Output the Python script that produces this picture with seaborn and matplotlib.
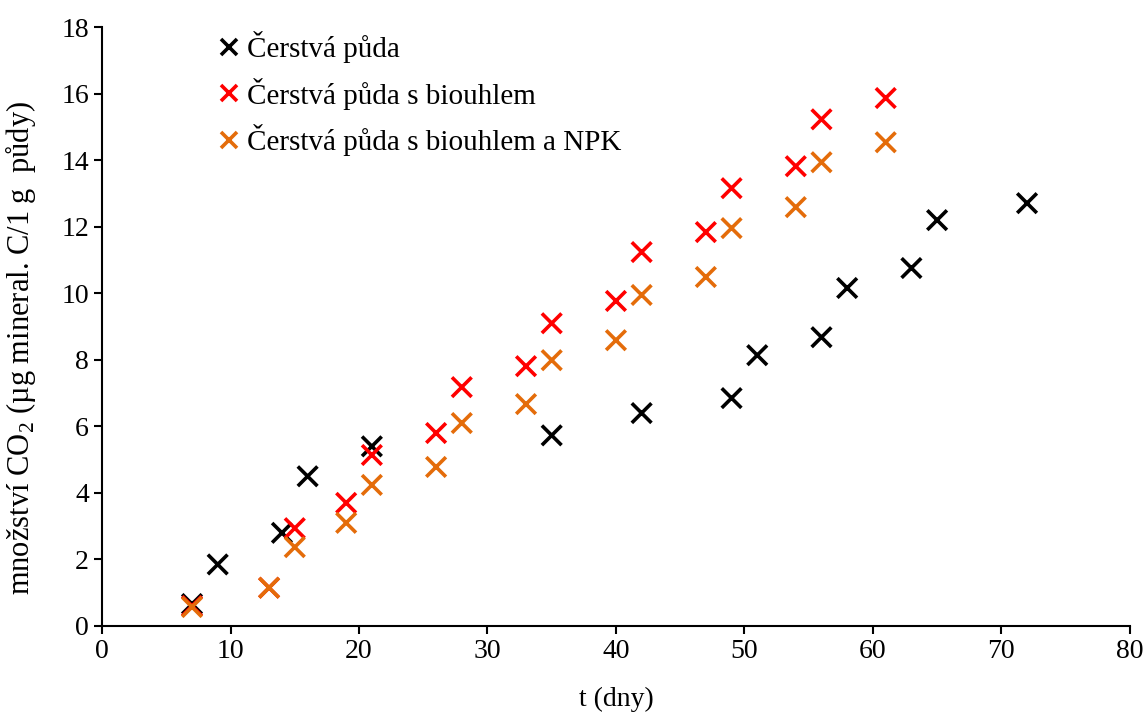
import pandas as pd
import matplotlib
matplotlib.use("Agg")
import matplotlib.pyplot as plt
import seaborn as sns

# data
t_fresh = [7, 9, 14, 16, 21, 35, 42, 49, 51, 56, 58, 63, 65, 72]
co2_fresh = [0.66, 1.85, 2.8, 4.5, 5.4, 5.73, 6.4, 6.85, 8.14, 8.68, 10.16, 10.76, 12.2, 12.71]

t_bio = [7, 13, 15, 19, 21, 26, 28, 33, 35, 40, 42, 47, 49, 54, 56, 61]
co2_bio = [0.6, 1.15, 2.94, 3.7, 5.14, 5.8, 7.18, 7.81, 9.1, 9.77, 11.24, 11.84, 13.16, 13.82, 15.23, 15.87]
co2_bio_npk = [0.57, 1.15, 2.37, 3.1, 4.24, 4.78, 6.1, 6.67, 7.99, 8.59, 9.95, 10.49, 11.96, 12.59, 13.94, 14.54]

labels = ["Čerstvá půda", "Čerstvá půda s biouhlem", "Čerstvá půda s biouhlem a NPK"]
colors = ["black", "#FF0000", "#E46C0A"]

df = pd.concat([
    pd.DataFrame({"t": t_fresh, "co2": co2_fresh, "serie": labels[0]}),
    pd.DataFrame({"t": t_bio, "co2": co2_bio, "serie": labels[1]}),
    pd.DataFrame({"t": t_bio, "co2": co2_bio_npk, "serie": labels[2]}),
], ignore_index=True)

sns.set_style("ticks")
plt.rcParams['font.family'] = ['Liberation Serif', 'DejaVu Serif']
plt.rcParams['mathtext.fontset'] = 'custom'
plt.rcParams['mathtext.rm'] = 'Liberation Serif'
plt.rcParams['text.color'] = 'black'
plt.rcParams['axes.labelcolor'] = 'black'

fig = plt.figure(figsize=(11.47, 7.15), dpi=100)
ax = fig.add_axes([0.089, 0.1245, 0.896, 0.8375])

sns.scatterplot(data=df, x="t", y="co2", hue="serie", hue_order=labels,
                palette=dict(zip(labels, colors)), marker="x", s=200,
                linewidth=2.6, ax=ax)

ax.set_xlim(0, 80)
ax.set_ylim(0, 18)
ax.set_xticks(range(0, 81, 10))
ax.set_yticks(range(0, 19, 2))
ax.tick_params(labelsize=20, width=1.5, length=6, colors="black")
for s in ["left", "bottom"]:
    ax.spines[s].set_linewidth(1.5)
    ax.spines[s].set_color("black")
sns.despine(ax=ax)

ax.set_xlabel("t (dny)", fontsize=20, labelpad=16)
ax.set_ylabel("množství CO$_2$ (µg mineral. C/1 g  půdy)", fontsize=22)
ax.yaxis.set_label_coords(-0.062, 0.465)

leg = ax.legend(loc="upper left", bbox_to_anchor=(0.098, 1.013), frameon=False,
                fontsize=21, handletextpad=0.1, handlelength=1.0,
                labelspacing=0.5, markerscale=0.8, borderaxespad=0,
                labelcolor="black")

fig.savefig("out.png", dpi=100)
